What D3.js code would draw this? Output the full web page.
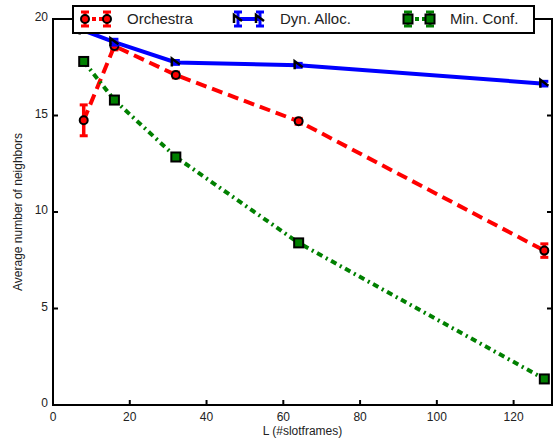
<!DOCTYPE html>
<html>
<head>
<meta charset="utf-8">
<script src="https://cdn.jsdelivr.net/npm/d3@7"></script>
<style>
  body { margin: 0; background: #fff; }
  text { font-family: "Liberation Sans", Arial, sans-serif; fill: #222; }
</style>
</head>
<body>
<svg id="chart" width="557" height="446"></svg>
<script>
// valeurs
const slotframes = [8, 16, 32, 64, 128];
const orchestra = [14.75, 18.6, 17.1, 14.7, 8.0];
const orchestraErr = [0.8, 0.2, 0.15, 0.15, 0.35];
const dynAlloc = [19.4, 18.8, 17.75, 17.6, 16.65];
const dynAllocErr = [0.1, 0.15, 0.1, 0.1, 0.12];
const minConf = [17.8, 15.8, 12.85, 8.4, 1.35];
const minConfErr = [0.1, 0.1, 0.1, 0.1, 0.1];
const xTicks = [0, 20, 40, 60, 80, 100, 120];
const yTicks = [0, 5, 10, 15, 20];

const series = [
    { name: "Orchestra", values: orchestra, err: orchestraErr, color: "#ff0000", dash: "11,6", marker: "circle" },
    { name: "Dyn. Alloc.", values: dynAlloc, err: dynAllocErr, color: "#0000ff", dash: null, marker: "triangle" },
    { name: "Min. Conf.", values: minConf, err: minConfErr, color: "#008000", dash: "6,4,2,4", marker: "square" }
];

const svg = d3.select("#chart");
const mLeft = 53, mRight = 552, mTop = 19, mBottom = 405;

const x = d3.scaleLinear().domain([0, 130]).range([mLeft, mRight]);
const y = d3.scaleLinear().domain([0, 20]).range([mBottom, mTop]);

// boite et graduations vers l'interieur
const g = svg.append("g");
g.append("rect").attr("x", mLeft).attr("y", mTop).attr("width", mRight - mLeft).attr("height", mBottom - mTop)
    .attr("fill", "none").attr("stroke", "#000").attr("stroke-width", 2);

xTicks.forEach(t => {
    g.append("line").attr("x1", x(t)).attr("x2", x(t)).attr("y1", mBottom).attr("y2", mBottom - 5)
        .attr("stroke", "#000").attr("stroke-width", 2);
    g.append("line").attr("x1", x(t)).attr("x2", x(t)).attr("y1", mTop).attr("y2", mTop + 5)
        .attr("stroke", "#000").attr("stroke-width", 2);
    g.append("text").attr("x", x(t)).attr("y", mBottom + 16).attr("text-anchor", "middle")
        .attr("font-size", 12).text(t);
});
yTicks.forEach(t => {
    g.append("line").attr("x1", mLeft).attr("x2", mLeft + 5).attr("y1", y(t)).attr("y2", y(t))
        .attr("stroke", "#000").attr("stroke-width", 2);
    g.append("line").attr("x1", mRight).attr("x2", mRight - 5).attr("y1", y(t)).attr("y2", y(t))
        .attr("stroke", "#000").attr("stroke-width", 2);
    g.append("text").attr("x", mLeft - 5).attr("y", y(t) + 2).attr("text-anchor", "end")
        .attr("font-size", 12).text(t);
});

svg.append("text").attr("x", (mLeft + mRight) / 2).attr("y", 435).attr("text-anchor", "middle")
    .attr("font-size", 12).text("L (#slotframes)");
svg.append("text").attr("transform", "translate(22," + ((mTop + mBottom) / 2) + ") rotate(-90)")
    .attr("text-anchor", "middle").attr("font-size", 12).text("Average number of neighbors");

function drawMarker(sel, type, cx, cy, color) {
    if (type === "circle") {
        sel.append("circle").attr("cx", cx).attr("cy", cy).attr("r", 4)
            .attr("fill", color).attr("stroke", "#000").attr("stroke-width", 2);
    } else if (type === "square") {
        sel.append("rect").attr("x", cx - 4.5).attr("y", cy - 4.5).attr("width", 9).attr("height", 9)
            .attr("fill", color).attr("stroke", "#000").attr("stroke-width", 2);
    } else {
        sel.append("path").attr("d", `M${cx - 4},${cy + 4} L${cx - 4},${cy - 4} L${cx + 4},${cy + 2}`)
            .attr("fill", "none").attr("stroke", "#000").attr("stroke-width", 2.5);
    }
}

const plot = svg.append("g");
series.forEach(s => {
    const pts = slotframes.map((d, i) => [x(d), y(s.values[i])]);
    // barres d'erreur
    slotframes.forEach((d, i) => {
        const x0 = x(d), y1 = y(s.values[i] + s.err[i]), y2 = y(s.values[i] - s.err[i]);
        plot.append("line").attr("x1", x0).attr("x2", x0).attr("y1", y1).attr("y2", y2)
            .attr("stroke", s.color).attr("stroke-width", 3.5);
        [y1, y2].forEach(yy => plot.append("line").attr("x1", x0 - 4).attr("x2", x0 + 4)
            .attr("y1", yy).attr("y2", yy).attr("stroke", s.color).attr("stroke-width", 3));
    });
    plot.append("path").attr("d", d3.line()(pts)).attr("fill", "none")
        .attr("stroke", s.color).attr("stroke-width", 4)
        .attr("stroke-dasharray", s.dash);
    pts.forEach(p => drawMarker(plot, s.marker, p[0], p[1], s.color));
});

// legende
const leg = svg.append("g");
leg.append("rect").attr("x", 73).attr("y", 6).attr("width", 461).attr("height", 27)
    .attr("fill", "#fff").attr("stroke", "#000").attr("stroke-width", 2);
const legX = [85, 238, 408];
series.forEach((s, i) => {
    const x1 = legX[i], x2 = legX[i] + 22, ly = 19;
    leg.append("line").attr("x1", x1).attr("x2", x2).attr("y1", ly).attr("y2", ly)
        .attr("stroke", s.color).attr("stroke-width", 4).attr("stroke-dasharray", s.dash ? "4,3" : null);
    [x1, x2].forEach(xx => {
        leg.append("line").attr("x1", xx).attr("x2", xx).attr("y1", ly - 7).attr("y2", ly + 7)
            .attr("stroke", s.color).attr("stroke-width", 3);
        [ly - 7, ly + 7].forEach(yy => leg.append("line").attr("x1", xx - 4).attr("x2", xx + 4)
            .attr("y1", yy).attr("y2", yy).attr("stroke", s.color).attr("stroke-width", 3));
        drawMarker(leg, s.marker, xx, ly, s.color);
    });
    leg.append("text").attr("x", x2 + 20).attr("y", ly + 5).attr("font-size", 15).text(s.name);
});
</script>
</body>
</html>
